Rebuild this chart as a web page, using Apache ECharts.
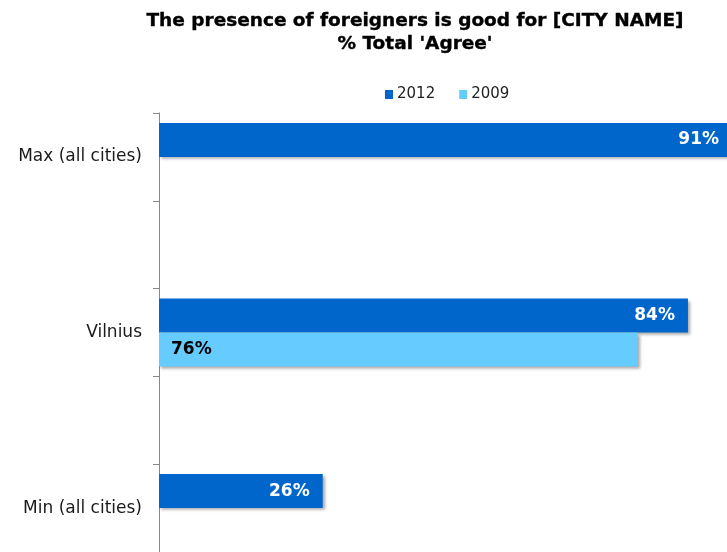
<!DOCTYPE html>
<html>
<head>
<meta charset="utf-8">
<script src="https://cdn.jsdelivr.net/npm/echarts@6/dist/echarts.min.js"></script>
<style>
  html, body { margin: 0; padding: 0; background: #fff; }
  #chart { width: 727px; height: 552px; }
</style>
</head>
<body>
<div id="chart"></div>
<script>
// blank rows keep the gaps between the three groups
const categories = ['Max (all cities)', '', 'Vilnius', '', 'Min (all cities)']
const seriesNames = ['2012', '2009']
const values2012 = [91, null, 84, null, 26]
const values2009 = [null, null, 76, null, null]

// the value axis runs past the right edge, so 91% is cut off there
const X_MAX = 90.2

const FONT = 'DejaVu Sans, Verdana, sans-serif'
const shadow = { shadowColor: 'rgba(0,0,0,.35)', shadowBlur: 3, shadowOffsetX: 2, shadowOffsetY: 2 }

const chart = echarts.init(document.getElementById('chart'), null, { renderer: 'canvas' })

chart.setOption({
  animation: false,
  textStyle: { fontFamily: FONT },
  title: {
    text: "The presence of foreigners is good for [CITY NAME]\n% Total 'Agree'",
    left: 410,
    top: 5,
    textAlign: 'center',
    textStyle: {
      fontFamily: FONT, fontSize: 18.5, fontWeight: 'bold', color: '#000', lineHeight: 23,
      textBorderColor: '#000', textBorderWidth: 0.4,
    },
  },
  legend: {
    data: seriesNames,
    left: 385,
    top: 87,
    padding: 0,
    icon: 'rect',
    itemWidth: 8,
    itemHeight: 9,
    itemGap: 24,
    textStyle: { fontFamily: FONT, fontSize: 15, color: '#222', padding: [0, 0, 0, -1] },
  },
  grid: { left: 159, top: 113, right: 0, bottom: 0 },
  xAxis: {
    type: 'value',
    min: 0,
    max: X_MAX,
    show: false,
  },
  yAxis: {
    type: 'category',
    data: categories,
    inverse: true,
    axisLine: { show: true, lineStyle: { color: '#888', width: 1 } },
    axisTick: { show: true, length: 6, lineStyle: { color: '#888' } },
    axisLabel: { color: '#1a1a1a', fontSize: 17, fontFamily: FONT, margin: 17 },
    splitLine: { show: false },
  },
  series: [
    {
      name: seriesNames[0],
      type: 'bar',
      data: values2012,
      clip: false,
      barWidth: 34,
      barGap: '0%',
      itemStyle: { color: '#0066CC', ...shadow },
      label: {
        show: true,
        position: 'insideRight',
        distance: 13,
        formatter: p => `${p.value}%`,
        color: '#fff',
        fontFamily: FONT,
        fontWeight: 'bold',
        fontSize: 17,
      },
    },
    {
      name: seriesNames[1],
      type: 'bar',
      data: values2009,
      clip: false,
      barWidth: 34,
      barGap: '0%',
      itemStyle: { color: '#66CCFF', ...shadow },
      label: {
        show: true,
        position: 'insideLeft',
        distance: 12,
        formatter: p => `${p.value}%`,
        color: '#000',
        fontFamily: FONT,
        fontWeight: 'bold',
        fontSize: 17,
      },
    },
  ],
})
</script>
</body>
</html>
